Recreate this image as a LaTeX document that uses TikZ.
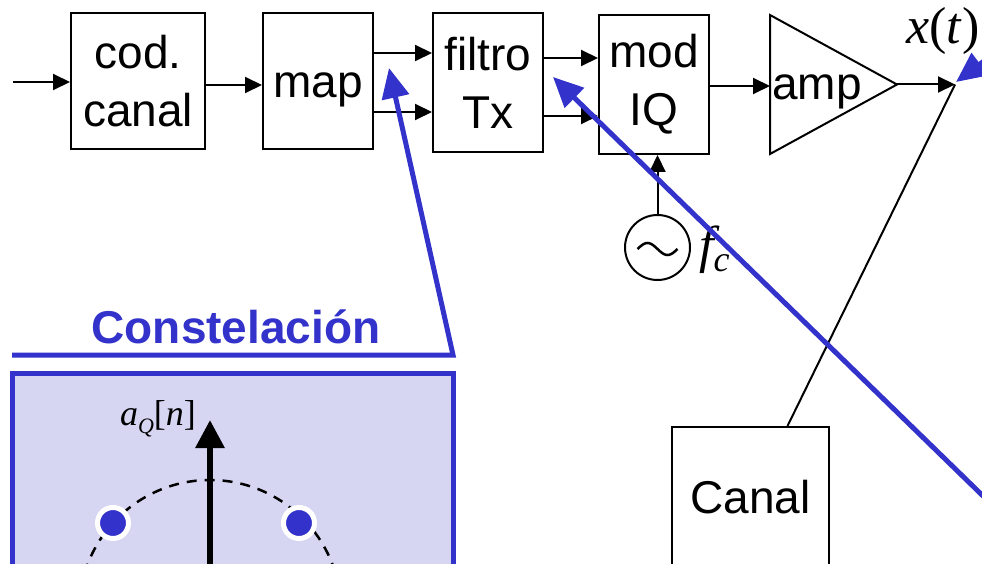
\documentclass[tikz,border=0pt]{standalone}
\usepackage{fontspec}
\setsansfont{Liberation Sans}
\newfontfamily\tmsfont{Liberation Serif}
\usetikzlibrary{arrows.meta}
\usepackage{xcolor}
\definecolor{azul}{HTML}{3333CC}
\definecolor{lila}{HTML}{D6D6F3}

\begin{document}
\begin{tikzpicture}[
        x=1pt, y=-1pt,
        % Stili per i blocchi
        block/.style={rectangle, draw=black, line width=2pt, inner sep=0pt, align=center, font=\sffamily\fontsize{46}{58}\selectfont},
        osc/.style={circle, draw=black, line width=2pt, inner sep=0pt, minimum size=65pt},
        punto/.style={circle, fill=azul, draw=white, line width=5pt, minimum size=31pt, inner sep=0pt},
        % Stili per le etichette e frecce
        label/.style={font=\tmsfont\itshape\fontsize{52}{52}\selectfont, inner sep=0pt},
        arrow/.style={-{Triangle[length=17pt,width=16pt]}, line width=2pt, draw=black},
        bluearrow/.style={-{Triangle[length=30pt,width=27pt]}, line width=5pt, draw=azul}
    ]
    \useasboundingbox (0,0) rectangle (982,564);
    \clip (0,0) rectangle (982,564);

    % --- TRANSMISOR ---
    \coordinate (In) at (13,82);
    \node[block, minimum width=134pt, minimum height=136pt] (Cod) at (138,81) {cod.\\canal};
    \node[block, minimum width=110pt, minimum height=136pt, text height=34pt, text depth=0pt] (Map) at (318,81) {map};
    \node[block, minimum width=110pt, minimum height=139pt] (Filtro) at (488,82.5) {filtro\\Tx};
    \node[block, minimum width=110pt, minimum height=139pt] (Mod) at (654,84.5) {mod\\IQ};
    \draw[line width=2pt] (770,15) -- (897,84.5) -- (770,154) -- cycle;
    \coordinate (AmpIn) at (770,86);
    \coordinate (AmpOut) at (897,84.5);
    \node[font=\sffamily\fontsize{46}{58}\selectfont, inner sep=0pt, anchor=base] (Amp) at (817,100) {amp};
    \coordinate (Xt) at (955,84.5);
    \node[label] (LXt) at (943,31) {x\/\upshape(\itshape t\/\upshape)};

    \node[osc] (Osc) at (657.5,247.5) {};
    \draw[line width=2.5pt] plot[domain=-20:20, smooth, samples=25] ({657.5+\x}, {249+6*sin(9*\x)});
    \node[label, anchor=west] (Fc) at (699,250) {f\raisebox{-9pt}{\fontsize{36}{36}\selectfont c}};

    % --- ARROWS ---
    \draw[arrow] (In) -- (Cod.west |- In);
    \draw[arrow] ([yshift=-4pt]Cod.east) -- ([yshift=-4pt]Map.west);
    \foreach \s in {28,-31} {
        \draw[arrow] ([yshift=\s pt]Map.east) -- ([yshift=\s pt]Map.east -| Filtro.west);
    }
    \foreach \s in {24.5,-33.5} {
        \draw[arrow] ([yshift=\s pt]Filtro.east) -- ([yshift=\s pt]Filtro.east -| Mod.west);
    }
    \draw[arrow] (Mod.east |- AmpIn) -- (AmpIn);
    \draw[arrow] (AmpOut) -- (Xt);
    \draw[arrow] (Osc.north) -- (Mod.south -| Osc.north);

    % --- CANAL ---
    \node[block, minimum width=157pt, minimum height=140pt] (Canal) at (750.5,497) {Canal};
    \draw[line width=2pt] ([xshift=37pt]Canal.north) -- (Xt);

    % --- CONSTELACION ---
    \node[font=\sffamily\bfseries\fontsize{46}{46}\selectfont, text=azul, inner sep=0pt] (Titulo) at (236,327) {Constelación};
    \draw[azul, line width=5pt, fill=lila] (12,373) rectangle (453,640);
    \draw[black, line width=2.5pt, dash pattern=on 10pt off 8pt] (210,611) circle (131);
    \draw[black, line width=6pt, -{Triangle[length=28pt,width=28pt]}] (210,640) -- (210,420);
    \node[font=\tmsfont\itshape\fontsize{36}{36}\selectfont, inner sep=0pt] (LaQ) at (158,419)
        {a\raisebox{-8pt}{\fontsize{22}{22}\selectfont Q}\upshape[\itshape n\/\upshape]};
    \node[punto] (P1) at (113,523) {};
    \node[punto] (P2) at (299,523) {};

    % --- BLUE POINTERS ---
    \coordinate (HdL) at (12,355);
    \coordinate (HdR) at (453,355);
    \draw[bluearrow] (HdL) -- (HdR) -- (389,68);
    \draw[bluearrow] (1020,532) -- (553,77);
    \draw[bluearrow] (1000,49) -- (956,82);

\end{tikzpicture}
\end{document}
